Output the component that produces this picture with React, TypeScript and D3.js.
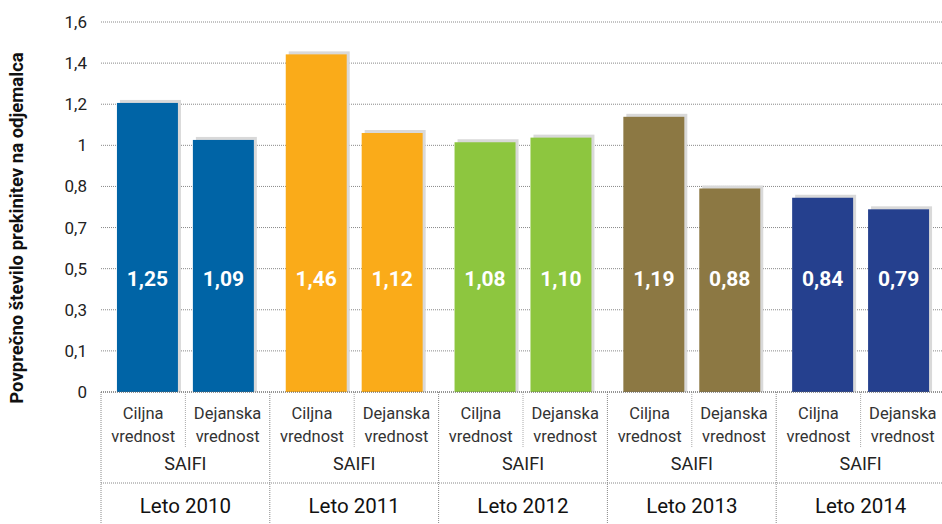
import React from "react";
import * as d3 from "d3";

const years = ["Leto 2010", "Leto 2011", "Leto 2012", "Leto 2013", "Leto 2014"];
const subCats = ["Ciljna", "Dejanska"];
const subLabels = [["Ciljna", "vrednost"], ["Dejanska", "vrednost"]];
const groupLabel = "SAIFI";
const targetValues = [1.25, 1.46, 1.08, 1.19, 0.84];
const actualValues = [1.09, 1.12, 1.10, 0.88, 0.79];
const colors = ["#0064A6", "#FAAB19", "#8DC63F", "#8C7843", "#25408E"];
const tickLabels = ["0", "0,1", "0,3", "0,5", "0,7", "0,8", "1", "1,2", "1,4", "1,6"];
const yTitle = "Povprečno število prekinitev na odjemalca";

const W = 942, H = 524;
const left = 101, right = 945, top = 22, base = 392;
const font = "Roboto, 'Noto Sans', sans-serif";

export default function App() {
  const y = d3.scaleLinear().domain([0, 1.6]).range([base, top]);
  const x = d3.scaleBand().domain(years).range([left, right]).padding(0);
  const xi = d3.scaleBand().domain(subCats).range([0, x.bandwidth()]).paddingInner(0.197).paddingOuter(0.21);
  const tickVals = tickLabels.map((_, i) => (i * 1.6) / (tickLabels.length - 1));
  const labelY = y(0.49);
  const fmt = (v: number) => v.toFixed(2).replace(".", ",");

  return (
    <svg width={W} height={H} style={{ position: "absolute", left: 0, top: 0, background: "#fff" }}>
      {tickVals.map((v, i) => (
        <g key={i}>
          <line x1={left} x2={W} y1={y(v)} y2={y(v)} stroke="#888" strokeWidth={1} strokeDasharray="1,1" />
          <text x={87} y={y(v)} dy="0.35em" textAnchor="end" fontFamily={font} fontSize={17} fill="#222">{tickLabels[i]}</text>
        </g>
      ))}
      <text transform={`translate(23,228) rotate(-90)`} textAnchor="middle" fontFamily={font} fontWeight="bold" fontSize={18.5} fill="#111">{yTitle}</text>
      {years.map((yr, gi) => {
        const gx = x(yr)!;
        const vals = [targetValues[gi], actualValues[gi]];
        return (
          <g key={yr}>
            {subCats.map((c, ci) => {
              const bx = gx + xi(c)!;
              const bw = xi.bandwidth();
              const v = vals[ci];
              return (
                <g key={c}>
                  <rect x={bx + 3} y={y(v) - 3} width={bw} height={base - y(v) + 3} fill="#d9d9d9" />
                  <rect x={bx} y={y(v)} width={bw} height={base - y(v)} fill={colors[gi]} />
                  <text x={bx + bw / 2} y={labelY} dy="0.35em" textAnchor="middle" fontFamily={font} fontWeight="bold" fontSize={21} fill="#fff">{fmt(v)}</text>
                  {subLabels[ci].map((t, li) => (
                    <text key={li} x={gx + (ci + 0.5) * x.bandwidth() / 2} y={413 + li * 23} dy="0.35em" textAnchor="middle" fontFamily={font} fontSize={16.5} fill="#333">{t}</text>
                  ))}
                </g>
              );
            })}
            <line x1={gx + x.bandwidth() / 2} x2={gx + x.bandwidth() / 2} y1={base} y2={447} stroke="#aaa" strokeDasharray="1,1" />
            <text x={gx + x.bandwidth() / 2} y={464} dy="0.35em" textAnchor="middle" fontFamily={font} fontSize={18} fill="#222">{groupLabel}</text>
            <text x={gx + x.bandwidth() / 2} y={506} dy="0.35em" textAnchor="middle" fontFamily={font} fontSize={20.5} fill="#111">{yr}</text>
            <line x1={gx} x2={gx} y1={base} y2={H} stroke="#888" strokeDasharray="1,1" />
          </g>
        );
      })}
      <line x1={left} x2={W} y1={483} y2={483} stroke="#888" strokeDasharray="1,1" />
      <line x1={left} x2={W} y1={base} y2={base} stroke="#666" strokeDasharray="1,1" />
    </svg>
  );
}
